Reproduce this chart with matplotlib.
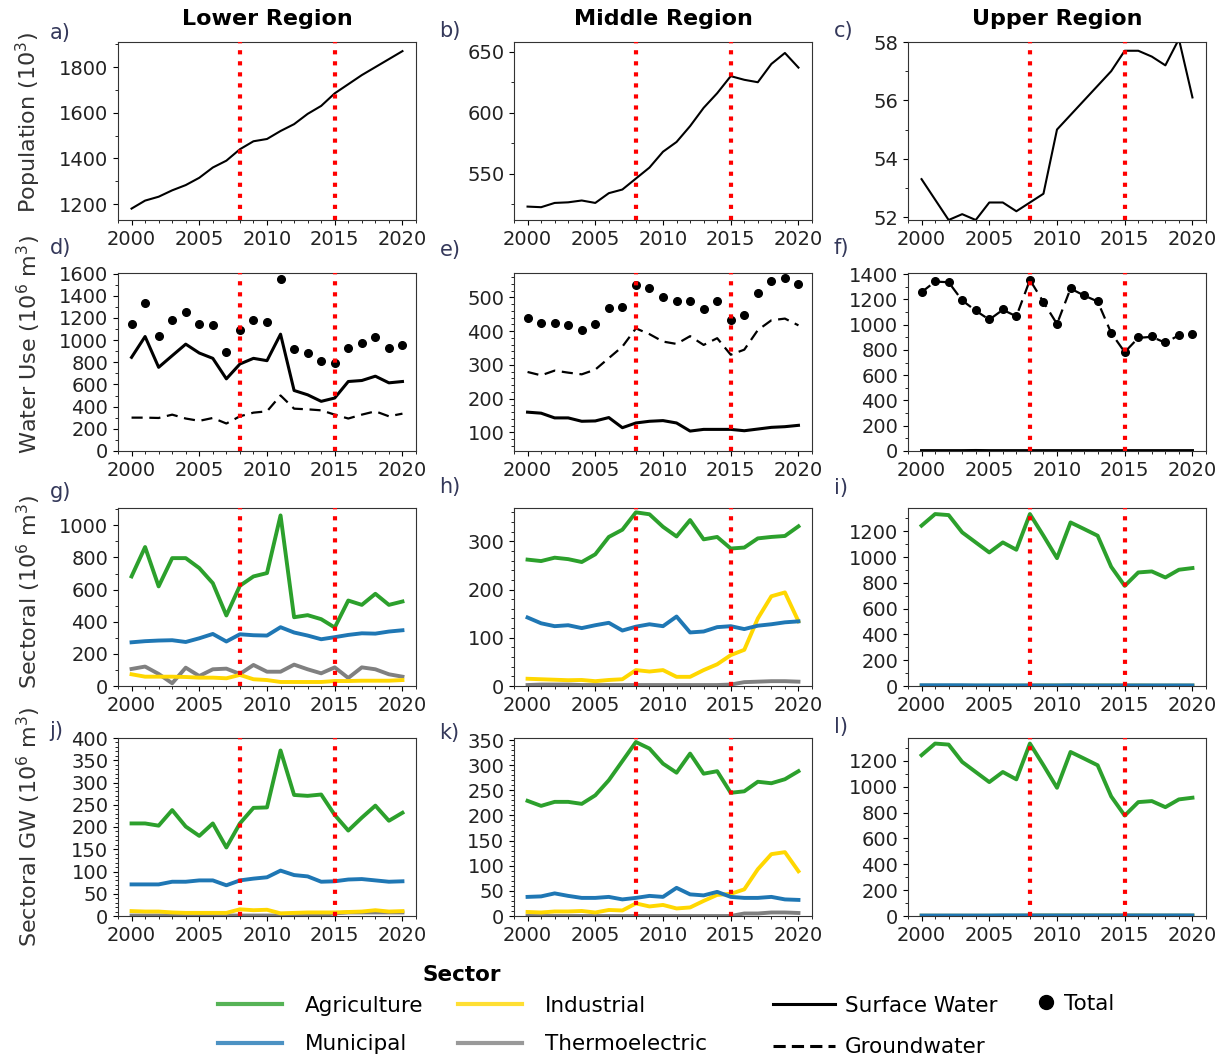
import matplotlib.pyplot as plt
import numpy as np
from matplotlib.lines import Line2D
from matplotlib.ticker import AutoMinorLocator, MultipleLocator

years = np.arange(2000, 2021)
regions = ["Lower Region", "Middle Region", "Upper Region"]

# population (10^3)
pop_lower = [1180, 1215, 1232, 1260, 1283, 1315, 1360, 1390, 1440, 1475, 1485,
             1520, 1550, 1595, 1630, 1685, 1725, 1765, 1800, 1835, 1870]
pop_middle = [523, 522.5, 526, 526.5, 528, 526, 534, 537, 546, 555, 568,
              576, 589, 604, 616, 630, 627, 625, 640, 649, 637]
pop_upper = [53.3, 52.6, 51.9, 52.1, 51.9, 52.5, 52.5, 52.2, 52.5, 52.8, 55.0,
             55.5, 56.0, 56.5, 57.0, 57.7, 57.7, 57.5, 57.2, 58.1, 56.1]

# water use by source (10^6 m^3)
sw_lower = [845, 1033, 755, 860, 964, 884, 836, 651, 785, 836, 815,
            1054, 546, 507, 448, 478, 627, 636, 675, 615, 627]
gw_lower = [301, 301, 298, 328, 293, 272, 298, 248, 313, 346, 358,
            501, 382, 376, 367, 328, 293, 328, 358, 313, 337]
tot_lower = [1143, 1337, 1039, 1179, 1257, 1149, 1137, 890, 1090, 1182, 1161,
             1552, 919, 881, 815, 794, 925, 970, 1030, 928, 955]

sw_middle = [160, 157, 143, 143, 133, 134, 144, 114, 128, 133, 135,
             128, 104, 109, 109, 109, 105, 110, 115, 117, 121]
gw_middle = [279, 269, 283, 277, 272, 286, 320, 354, 408, 391, 369,
             362, 385, 359, 379, 330, 345, 403, 432, 437, 417]
tot_middle = [440, 425, 425, 417, 403, 420, 468, 471, 536, 529, 502,
              488, 488, 464, 488, 434, 449, 512, 547, 557, 539]

sw_upper = [3, 3, 3, 3, 4, 3, 3, 3, 3, 3, 3, 3, 3, 3, 3, 3, 3, 3, 3, 3, 3]
gw_upper = [1256, 1340, 1335, 1191, 1110, 1039, 1117, 1065, 1353, 1178, 1005,
            1285, 1230, 1183, 934, 782, 895, 903, 856, 916, 921]
tot_upper = [1259, 1343, 1338, 1194, 1113, 1042, 1120, 1068, 1356, 1181, 1008,
             1288, 1233, 1186, 937, 785, 898, 906, 859, 919, 924]

# sectoral use (10^6 m^3)
agr_lower = [682, 865, 620, 796, 796, 734, 640, 439, 624, 682, 703,
             1062, 428, 441, 416, 364, 532, 505, 574, 505, 526]
mun_lower = [272, 279, 283, 285, 274, 297, 324, 277, 322, 316, 314,
             366, 333, 314, 291, 304, 318, 328, 326, 339, 347]
ind_lower = [73, 58, 58, 58, 56, 52, 52, 48, 69, 42, 37,
             25, 25, 25, 25, 31, 31, 33, 33, 33, 37]
the_lower = [106, 121, 75, 17, 114, 62, 104, 108, 75, 131, 89,
             89, 133, 104, 79, 116, 50, 116, 104, 73, 58]

agr_middle = [262, 259, 266, 263, 257, 273, 309, 324, 360, 356, 330,
              310, 344, 304, 309, 285, 287, 306, 309, 311, 331]
mun_middle = [142, 130, 124, 126, 120, 126, 131, 115, 123, 128, 124,
              144, 111, 113, 122, 124, 118, 125, 128, 132, 134]
ind_middle = [15, 14, 13, 12, 12.5, 10, 12.5, 14, 33, 30, 33,
              19, 19, 33, 45, 64, 75, 140, 186, 194, 134]
the_middle = [2, 3, 3, 3, 2, 2, 2, 2, 2, 2, 2, 2, 2, 2, 2, 3, 8, 9, 10, 10, 9]

agr_upper = [1244, 1334, 1326, 1192, 1114, 1036, 1114, 1057, 1334, 1166, 992,
             1269, 1218, 1166, 925, 777, 881, 889, 842, 902, 915]
mun_upper = [6, 6, 6, 6, 5, 5, 5, 5, 5, 5, 5, 6, 5, 5, 5, 5, 5, 5, 5, 5, 5]
ind_upper = [2, 2, 2, 2, 2, 2, 2, 2, 4, 4, 4, 4, 4, 4, 4, 4, 4, 3, 3, 3, 3]
the_upper = [0, 0, 0, 0, 0, 0, 0, 0, 0, 0, 0, 0, 0, 0, 0, 0, 0, 0, 0, 0, 0]

# sectoral groundwater use (10^6 m^3)
agr_gw_lower = [208, 208, 203, 238, 201, 180, 208, 154, 208, 243, 244,
                372, 272, 270, 273, 227, 192, 221, 248, 214, 232]
mun_gw_lower = [71, 71, 71, 77, 77, 80, 80, 69, 80, 84, 87,
                102, 92, 89, 77, 78, 82, 83, 80, 77, 78]
ind_gw_lower = [11, 10, 10, 8, 7, 7, 7, 7, 15, 13, 14, 6, 7, 8, 8, 8, 9, 10, 13, 10, 11]
the_gw_lower = [1, 1, 1, 1, 1, 1, 1, 1, 1, 1, 1, 1, 1, 1, 1, 6, 8, 8, 8, 8, 8]

agr_gw_middle = [229, 219, 227, 227, 223, 240, 270, 308, 346, 333, 303,
                 285, 323, 283, 288, 245, 248, 267, 264, 272, 288]
mun_gw_middle = [38, 39, 45, 40, 36, 36, 38, 33, 36, 40, 38,
                 56, 43, 41, 48, 38, 36, 36, 38, 33, 32]
ind_gw_middle = [8, 7, 9, 9, 10, 7, 12, 11, 25, 19, 22,
                 15, 17, 30, 42, 44, 53, 93, 123, 127, 89]
the_gw_middle = [0, 0, 0, 0, 0, 0, 0, 0, 0, 0, 0, 0, 0, 0, 0, 0, 5, 5, 7, 7, 6]

agr_gw_upper = [1244, 1334, 1326, 1192, 1114, 1036, 1114, 1057, 1334, 1166, 992,
                1269, 1218, 1166, 925, 777, 881, 889, 842, 902, 915]
mun_gw_upper = [4, 4, 4, 4, 4, 4, 5, 5, 5, 5, 5, 5, 5, 5, 5, 5, 5, 5, 5, 5, 5]
ind_gw_upper = [2, 2, 2, 2, 2, 2, 2, 2, 4, 4, 4, 4, 4, 4, 4, 4, 4, 3, 3, 3, 3]
the_gw_upper = [0, 0, 0, 0, 0, 0, 0, 0, 0, 0, 0, 0, 0, 0, 0, 0, 0, 0, 0, 0, 0]

pops = [pop_lower, pop_middle, pop_upper]
use = [(sw_lower, gw_lower, tot_lower), (sw_middle, gw_middle, tot_middle),
       (sw_upper, gw_upper, tot_upper)]
sect = [(agr_lower, mun_lower, ind_lower, the_lower),
        (agr_middle, mun_middle, ind_middle, the_middle),
        (agr_upper, mun_upper, ind_upper, the_upper)]
sect_gw = [(agr_gw_lower, mun_gw_lower, ind_gw_lower, the_gw_lower),
           (agr_gw_middle, mun_gw_middle, ind_gw_middle, the_gw_middle),
           (agr_gw_upper, mun_gw_upper, ind_gw_upper, the_gw_upper)]

sector_colors = ['#2ca02c', '#1f77b4', '#ffd700', '#808080']
sector_names = ['Agriculture', 'Municipal', 'Industrial', 'Thermoelectric']

ylabels = ['Population (10$^3$)', 'Water Use (10$^6$ m$^3$)',
           'Sectoral (10$^6$ m$^3$)', 'Sectoral GW (10$^6$ m$^3$)']
ylabel_y = [0.55, 0.6, 0.53, 0.5]
letters = ['a)', 'b)', 'c)', 'd)', 'e)', 'f)', 'g)', 'h)', 'i)', 'j)', 'k)', 'l)']
ylims = [(1130, 1910), (512, 658), (51.9, 58.0),
         (0, 1606), (45, 572), (0, 1408),
         (0, 1108), (0, 369), (0, 1381),
         (0, 400), (0, 354), (0, 1377)]
ysteps = [200, 50, 2, 200, 100, 200, 200, 100, 200, 50, 50, 200]
yminor = [2, 2, 2, 2, 5, 2, 2, 5, 2, 5, 5, 2]
letter_y = [1.05, 1.06, 1.06, 1.14, 1.13, 1.14, 1.09, 1.12, 1.11, 1.04, 1.03, 1.06]

W, H = 1227, 1056
fig = plt.figure(figsize=(W / 100, H / 100), dpi=100)
plt.rcParams['font.family'] = 'DejaVu Sans'

lefts = [118, 514, 908]
tops = [42, 273, 508, 738]
aw, ah = 298, 178

for r in range(4):
    for c in range(3):
        i = r * 3 + c
        ax = fig.add_axes([lefts[c] / W, 1 - (tops[r] + ah) / H, aw / W, ah / H])
        if r == 0:
            ax.plot(years, pops[c], color='black', lw=1.5)
            ax.set_title(regions[c], fontsize=16, fontweight='bold', pad=12)
        elif r == 1:
            sw, gw, tot = use[c]
            ax.plot(years, sw, color='black', lw=2.2)
            ax.plot(years, gw, color='black', lw=1.6, ls=(0, (5, 3)))
            ax.plot(years, tot, 'o', color='black', ms=5.5)
        else:
            data = sect[c] if r == 2 else sect_gw[c]
            # thermoelectric first so near-zero sectors stay visible on top
            for vals, col in reversed(list(zip(data, sector_colors))):
                ax.plot(years, vals, color=col, lw=2.8)
        for yr in (2008, 2015):
            ax.axvline(yr, color='red', ls=':', lw=3, zorder=4)
        ax.set_xlim(1999, 2021)
        ax.set_ylim(*ylims[i])
        ax.xaxis.set_major_locator(MultipleLocator(5))
        ax.xaxis.set_minor_locator(AutoMinorLocator(5))
        ax.yaxis.set_major_locator(MultipleLocator(ysteps[i]))
        ax.yaxis.set_minor_locator(AutoMinorLocator(yminor[i]))
        ax.tick_params(labelsize=14, labelcolor='#222222')
        for sp in ax.spines.values():
            sp.set_color('#333333')
        ax.text(-0.23 if c == 0 else -0.25, letter_y[i], letters[i], transform=ax.transAxes,
                fontsize=15, color='#34385a', ha='left', va='center')
        if c == 0:
            ax.set_ylabel(ylabels[r], fontsize=16, color='#333333')
            ax.yaxis.set_label_coords(-0.25, ylabel_y[r])

# legends
fig.text(462 / W, 1 - 975 / H, 'Sector', fontsize=15.5, fontweight='bold',
         ha='center', va='center')

sector_handles = [Line2D([], [], color=col, lw=3, alpha=0.8) for col in sector_colors]
fig.legend(sector_handles, sector_names, ncol=2, loc='upper left',
           bbox_to_anchor=(207 / W, 1 - 985 / H), frameon=False,
           fontsize=15.5, handlelength=3.0, handletextpad=1.05,
           columnspacing=1.6, labelspacing=0.85, borderpad=0)

src_handles = [Line2D([], [], color='black', lw=2.2),
               Line2D([], [], color='black', lw=2.2, ls=(0, (4, 2)))]
fig.legend(src_handles, ['Surface Water', 'Groundwater'], loc='upper left',
           bbox_to_anchor=(762 / W, 1 - 985 / H), frameon=False,
           fontsize=15.5, handlelength=2.9, handletextpad=0.45,
           labelspacing=1.0, borderpad=0)

tot_handle = [Line2D([], [], color='black', marker='o', ls='none', ms=10)]
fig.legend(tot_handle, ['Total'], loc='upper left',
           bbox_to_anchor=(1024 / W, 1 - 983 / H), frameon=False,
           fontsize=15.5, handlelength=1.0, handletextpad=0.35, borderpad=0)

fig.savefig('out.png', dpi=100)
